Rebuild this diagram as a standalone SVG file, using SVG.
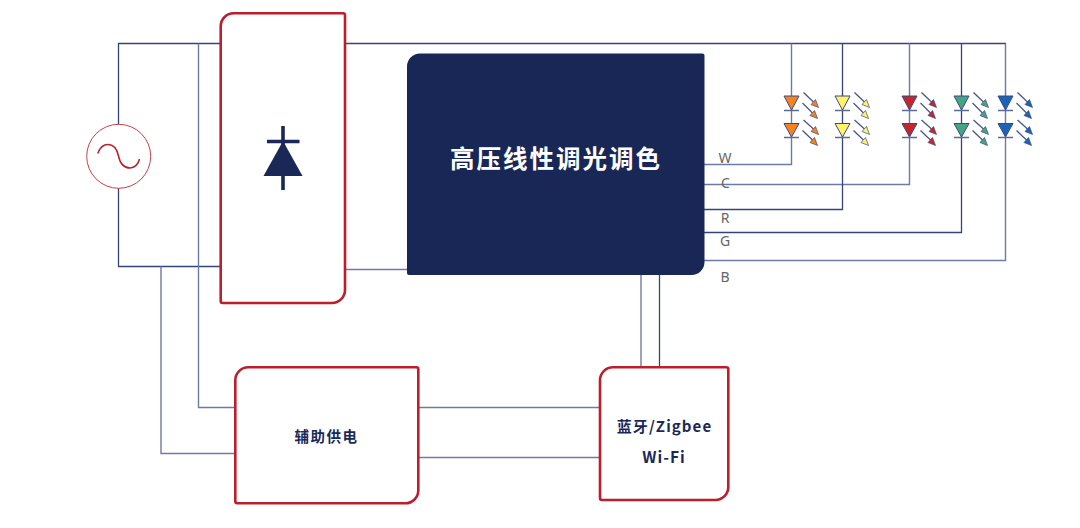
<svg xmlns="http://www.w3.org/2000/svg" width="1080" height="528" viewBox="0 0 1080 528">
<style>
.w{fill:none;stroke:#36447c;stroke-width:1.3;stroke-linejoin:miter}
.l{fill:none;stroke:#6f7aa3;stroke-width:1.4}
.box{fill:#fff;stroke:#bd1e2c;stroke-width:2.6;stroke-linejoin:round}
.t{font-family:"Noto Sans CJK SC","Noto Sans",sans-serif;font-weight:700;fill:#1a2857;text-anchor:middle}
.p{font-family:"Noto Sans","Open Sans",sans-serif;font-size:14px;fill:#666;text-anchor:middle}
.bar{stroke:#5d6a96;stroke-width:1.5;fill:none}
.ray{stroke:#4a5688;stroke-width:1.3;fill:none}
.h{stroke:#3c4a80;stroke-width:.7}
</style>
<defs>
<g id="pair">
<path d="M-7.500 96L7.500 96L0 110Z" stroke="#3c4a80" stroke-width="1"/>
<path class="bar" d="M-7.500 110.500H7.500"/>
<path d="M-7.500 123.500L7.500 123.500L0 137Z" stroke="#3c4a80" stroke-width="1"/>
<path class="bar" d="M-7.500 137.500H7.500"/>
<path class="ray" d="M12 92.500L22 102"/><path class="h" d="M27 107.500L24 99.500L19.500 104.500Z"/>
<path class="ray" d="M11 103L21 113"/><path class="h" d="M26 118.500L23 110.500L18.500 115.500Z"/>
<path class="ray" d="M12 120L22 129"/><path class="h" d="M27 134.500L24 126.500L19.500 131.500Z"/>
<path class="ray" d="M11 130.500L21 140"/><path class="h" d="M26 145.500L23 137.500L18.500 142.500Z"/>
</g>
</defs>
<g id="connectors">
<path class="w" d="M118.500 137V43.500H221M345 43.500H1006"/>
<path class="w" d="M118.500 188V266.500H221"/>
<path class="l" d="M198.500 43.500V407.500H236"/>
<path class="l" d="M161 266.500V453.500H236"/>
<path class="l" d="M345 269.500H407"/>
<path class="l" d="M704 164.500H791.500V43.500"/>
<path class="l" d="M704 184.500H909.500V43.500"/>
<path class="w" d="M704 209.500H842.500V43.500"/>
<path class="w" d="M704 232.500H961.500V43.500"/>
<path class="l" d="M704 260.500H1005.500V43.500"/>
<path class="l" d="M418 407.500H600M418 457.500H600"/>
<path class="l" d="M641 275V367"/>
<path class="w" d="M659.500 275V367"/>
</g>
<g id="ac-source">
<circle cx="118.700" cy="156.300" r="32" fill="#fff" stroke="#c8404c" stroke-width="1"/>
<path d="M97.700 153.500C100 147 104 144.500 108 144.500C114 144.500 117 149 118.500 156C120 163 124 168 130 168C134.500 168 138.500 164 139.500 159" fill="none" stroke="#bd1e2c" stroke-width="1.500"/>
</g>
<g id="rectifier">
<path class="box" d="M234 13.300H343A2 2 0 0 1 345 15.300V290A13 13 0 0 1 332 303H222.700A2 2 0 0 1 220.700 301V26.300A13 13 0 0 1 234 13.300Z"/>
<path d="M283 126V190M267 141.500H299.500" stroke="#1a2857" stroke-width="3.600" fill="none"/>
<path d="M283 141L302.500 176H263.500Z" fill="#1a2857"/>
</g>
<g id="controller">
<path d="M420 53.500H702.500A2 2 0 0 1 704.500 55.500V262A13 13 0 0 1 691.500 275H409A2 2 0 0 1 407 273V66.500A13 13 0 0 1 420 53.500Z" fill="#192756"/>
<text class="t" x="556" y="168" font-size="24.500" letter-spacing="2" style="fill:#fff">高压线性调光调色</text>
</g>
<g id="channel-labels">
<text class="p" x="725" y="162.500">W</text>
<text class="p" x="725.500" y="187.500">C</text>
<text class="p" x="725" y="223">R</text>
<text class="p" x="725" y="246">G</text>
<text class="p" x="725" y="282">B</text>
</g>
<g id="led-w"><use href="#pair" x="791.500" fill="#f58220"/></g>
<g id="led-c"><use href="#pair" x="842.500" fill="#fff36b"/></g>
<g id="led-r"><use href="#pair" x="909.500" fill="#c1272d"/></g>
<g id="led-g"><use href="#pair" x="961.500" fill="#45a583"/></g>
<g id="led-b"><use href="#pair" x="1005.500" fill="#1b63b8"/></g>
<g id="aux-power">
<path class="box" d="M249 367.300H416.300A2 2 0 0 1 418.300 369.300V490.300A13 13 0 0 1 405.300 503.300H237.300A2 2 0 0 1 235.300 501.300V380.300A13 13 0 0 1 249 367.300Z"/>
<text class="t" x="326.500" y="442" font-size="14.500" letter-spacing="1.500">辅助供电</text>
</g>
<g id="wireless">
<path class="box" d="M613 367.300H726.300A2 2 0 0 1 728.300 369.300V487A13 13 0 0 1 715.300 500H602A2 2 0 0 1 600 498V380.300A13 13 0 0 1 613 367.300Z"/>
<text class="t" x="664.500" y="432" font-size="15" letter-spacing="1.100">蓝牙/Zigbee</text>
<text class="t" x="664" y="463" font-size="15.500" letter-spacing="1">Wi-Fi</text>
</g>
</svg>
